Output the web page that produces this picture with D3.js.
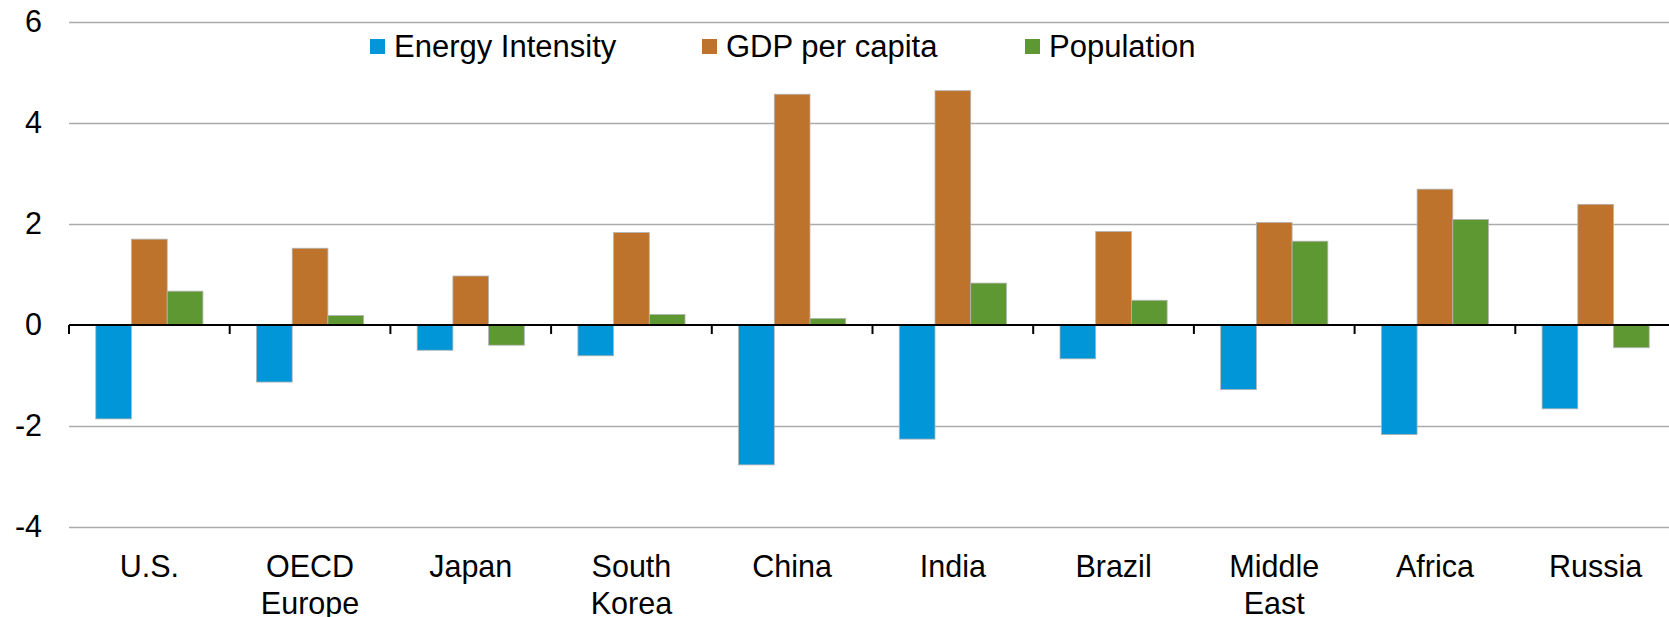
<!DOCTYPE html>
<html>
<head>
<meta charset="utf-8">
<script src="https://cdn.jsdelivr.net/npm/d3@7"></script>
<style>
  html, body { margin: 0; padding: 0; background: #fff; }
  svg { display: block; }
  text { font-family: "Liberation Sans", Arial, sans-serif; fill: #000; }
</style>
</head>
<body>
<svg id="chart" width="1669" height="617"></svg>
<script>
// ---- Data ----
const categories = ["U.S.", "OECD\nEurope", "Japan", "South\nKorea", "China", "India", "Brazil", "Middle\nEast", "Africa", "Russia"];
const seriesNames = ["Energy Intensity", "GDP per capita", "Population"];
const energyIntensity = [-1.86, -1.13, -0.50, -0.61, -2.77, -2.26, -0.67, -1.28, -2.17, -1.66];
const gdpPerCapita    = [1.70, 1.52, 0.97, 1.83, 4.57, 4.64, 1.85, 2.03, 2.69, 2.39];
const population      = [0.67, 0.19, -0.40, 0.21, 0.13, 0.83, 0.49, 1.66, 2.09, -0.45];
const yTicks = [-4, -2, 0, 2, 4, 6];

const seriesValues = [energyIntensity, gdpPerCapita, population];
const colors = ["#0096D7", "#BD732C", "#5E9833"];

// ---- Layout ----
const svg = d3.select("#chart");
const plotLeft = 69, plotRight = 1676, plotTop = 22, plotBottom = 527;
const fontSize = 30.5;

const y = d3.scaleLinear().domain([-4, 6]).range([plotBottom, plotTop]);
const x0 = d3.scaleBand().domain(categories).range([plotLeft, plotRight]).paddingInner(0).paddingOuter(0);
const bw = x0.bandwidth() / 4.5;           // Excel gap width 150%
const x1 = d3.scaleBand().domain(seriesNames)
  .range([0.75 * bw, x0.bandwidth() - 0.75 * bw]).padding(0);

// gridlines
svg.append("g").selectAll("line")
  .data(yTicks.filter(d => d !== 0))
  .join("line")
  .attr("x1", plotLeft).attr("x2", plotRight)
  .attr("y1", d => Math.round(y(d)) + 0.5).attr("y2", d => Math.round(y(d)) + 0.5)
  .attr("stroke", "#ababab").attr("stroke-width", 1.4);

// y labels
const yAxis = d3.axisLeft(y).tickValues(yTicks).tickSize(0).tickPadding(27).tickFormat(d => String(d));
const ya = svg.append("g").attr("transform", `translate(${plotLeft},0)`).call(yAxis);
ya.select(".domain").remove();
ya.selectAll("text").style("font-size", fontSize + "px").attr("font-family", null).attr("fill", "#000");

// bars
const rows = categories.map((c, i) => ({ c, vals: seriesNames.map((s, j) => ({ s, j, v: seriesValues[j][i] })) }));
const groups = svg.append("g").selectAll("g").data(rows).join("g")
  .attr("transform", d => `translate(${x0(d.c)},0)`);
groups.selectAll("rect").data(d => d.vals).join("rect")
  .attr("x", d => x1(d.s))
  .attr("width", x1.bandwidth())
  .attr("y", d => Math.min(y(d.v), y(0)))
  .attr("height", d => Math.abs(y(d.v) - y(0)))
  .attr("fill", d => colors[d.j])
  .attr("stroke", "#b4b4b4").attr("stroke-width", 0.8);

// zero axis with ticks
const xAxis = d3.axisBottom(x0).tickSize(0).tickFormat("");
const xa = svg.append("g").attr("transform", `translate(0,${y(0)})`).call(xAxis);
xa.select(".domain").remove();
svg.append("line").attr("x1", plotLeft).attr("x2", plotRight)
  .attr("y1", y(0)).attr("y2", y(0)).attr("stroke", "#000").attr("stroke-width", 2.2);
const tickPos = categories.map(c => x0(c)).concat([plotRight]);
svg.append("g").selectAll("line").data(tickPos).join("line")
  .attr("x1", d => d).attr("x2", d => d)
  .attr("y1", y(0)).attr("y2", y(0) + 9)
  .attr("stroke", "#000").attr("stroke-width", 2);

// category labels
const lab = svg.append("g").selectAll("text").data(categories).join("text")
  .attr("text-anchor", "middle")
  .attr("x", d => x0(d) + x0.bandwidth() / 2)
  .attr("y", 577)
  .style("font-size", fontSize + "px");
lab.selectAll("tspan").data(d => d.split("\n")).join("tspan")
  .attr("x", function () { return d3.select(this.parentNode).attr("x"); })
  .attr("dy", (d, i) => i === 0 ? 0 : 37)
  .text(d => d);

// legend
const legendX = [370, 702, 1025];
const leg = svg.append("g").selectAll("g").data(seriesNames).join("g")
  .attr("transform", (d, i) => `translate(${legendX[i]},39)`);
leg.append("rect").attr("width", 15).attr("height", 15).attr("fill", (d, i) => colors[i]);
leg.append("text").attr("x", 24).attr("y", 18).style("font-size", "31px").text(d => d);
</script>
</body>
</html>
